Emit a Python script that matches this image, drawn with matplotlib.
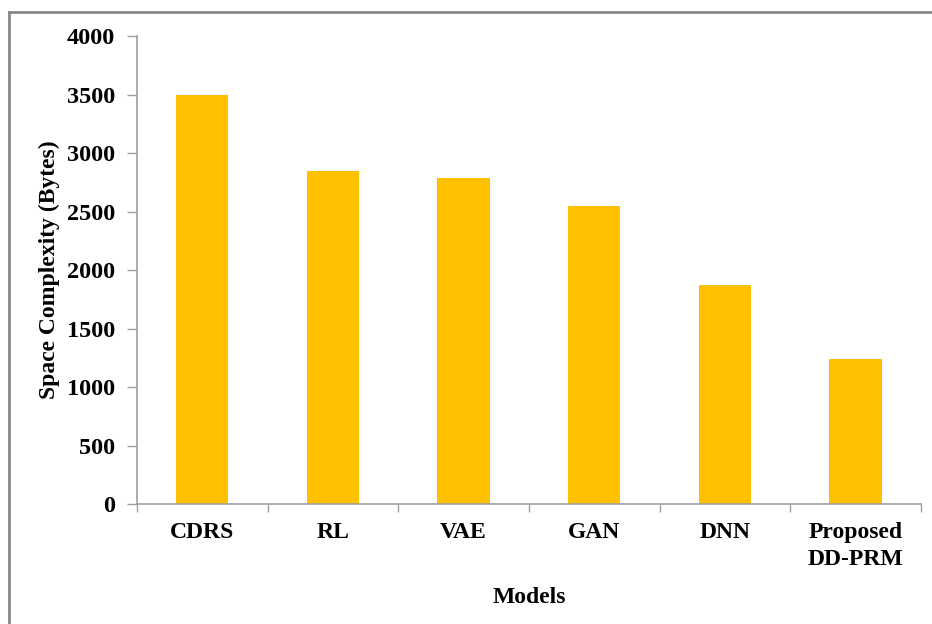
import matplotlib
matplotlib.use("Agg")
import matplotlib.pyplot as plt
from matplotlib.lines import Line2D
import numpy as np

categories = ["CDRS", "RL", "VAE", "GAN", "DNN", "Proposed\nDD-PRM"]
values = [3500, 2850, 2790, 2550, 1875, 1240]
yticks = [0, 500, 1000, 1500, 2000, 2500, 3000, 3500, 4000]

plt.rcParams['font.family'] = ['Liberation Serif', 'DejaVu Serif']
plt.rcParams['font.weight'] = 'bold'

fig = plt.figure(figsize=(9.32, 6.24), dpi=100)
ax = fig.add_axes([0.147, 0.1923, 0.841, 0.75])

x = np.arange(len(categories))
ax.bar(x, values, width=0.4, color="#FFC000", zorder=2)

ax.set_xlim(-0.5, len(categories) - 0.5)
ax.set_ylim(0, 4000)
ax.set_yticks(yticks)
ax.set_yticklabels([str(t) for t in yticks], fontsize=17.5, fontweight='bold')
ax.set_xticks(x)
ax.set_xticklabels(categories, fontsize=17, fontweight='bold', linespacing=1.4, va='top')
ax.set_xticks(np.arange(-0.5, len(categories), 1.0), minor=True)
ax.tick_params(axis='x', which='major', length=0, pad=13)
ax.tick_params(axis='x', which='minor', length=6, color='#A0A0A0', width=1)
ax.tick_params(axis='y', length=7, color='#A0A0A0', width=1, pad=9)

for s in ['top', 'right']:
    ax.spines[s].set_visible(False)
for s in ['left', 'bottom']:
    ax.spines[s].set_color('#A0A0A0')
    ax.spines[s].set_linewidth(1.2)

ax.set_ylabel("Space Complexity (Bytes)", fontsize=17, fontweight='bold', labelpad=5)
ax.set_xlabel("Models", fontsize=17, fontweight='bold', labelpad=12)

# figure frame (top and left visible)
fig.add_artist(Line2D([9/932, 1.0], [1 - 12/624, 1 - 12/624], transform=fig.transFigure, color='#888888', lw=2))
fig.add_artist(Line2D([9/932, 9/932], [0.0, 1 - 12/624], transform=fig.transFigure, color='#888888', lw=2))

fig.savefig("out.png", dpi=100)
